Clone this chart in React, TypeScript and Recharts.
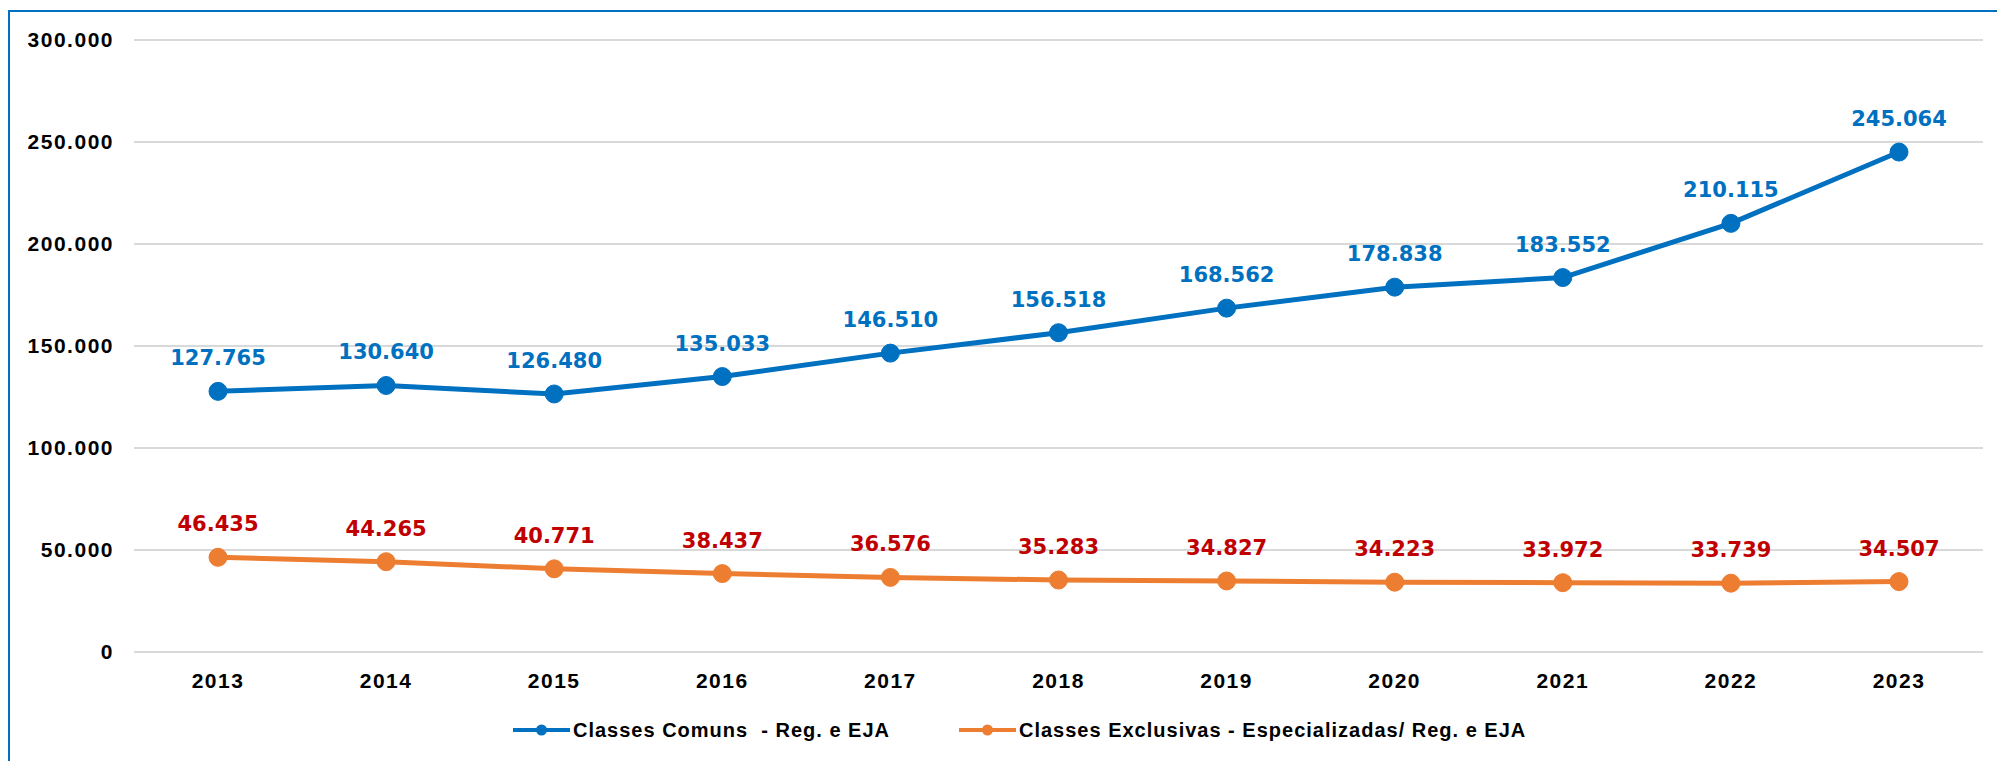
import {
  LineChart,
  Line,
  XAxis,
  YAxis,
  CartesianGrid,
  LabelList,
  Legend,
} from "recharts";

const years = ["2013", "2014", "2015", "2016", "2017", "2018", "2019", "2020", "2021", "2022", "2023"];
const classesComuns = [127765, 130640, 126480, 135033, 146510, 156518, 168562, 178838, 183552, 210115, 245064];
const classesExclusivas = [46435, 44265, 40771, 38437, 36576, 35283, 34827, 34223, 33972, 33739, 34507];
const yTicks = [0, 50000, 100000, 150000, 200000, 250000, 300000];

const data = years.map((year, i) => ({
  year,
  comuns: classesComuns[i],
  exclusivas: classesExclusivas[i],
}));

const BLUE = "#0070C0";
const ORANGE = "#ED7D31";
const RED = "#C00000";

// 127765 -> "127.765"
const fmt = (v: any) => String(v).replace(/\B(?=(\d{3})+(?!\d))/g, ".");

const tickStyle = {
  fill: "#000",
  fontFamily: "'Liberation Sans', Arial, sans-serif",
  fontWeight: 700,
  fontSize: 21,
  letterSpacing: 1.5,
};

const labelStyle = {
  fontFamily: "'DejaVu Sans', Verdana, sans-serif",
  fontWeight: 700,
  fontSize: 21,
};

function LegendContent(props: any) {
  const items = props.payload || [];
  return (
    <div style={{ display: "flex", alignItems: "center" }}>
      {items.map((item: any, i: number) => (
        <div
          key={i}
          style={{ display: "flex", alignItems: "center", marginRight: i === 0 ? 69 : 0 }}
        >
          <svg width={57} height={14} style={{ display: "block" }}>
            <line x1={0} y1={7} x2={57} y2={7} stroke={item.color} strokeWidth={4} strokeLinecap="round" />
            <circle cx={28.5} cy={7} r={5.5} fill={item.color} />
          </svg>
          <span
            style={{
              marginLeft: 3,
              whiteSpace: "pre",
              fontFamily: "'Liberation Sans', Arial, sans-serif",
              fontWeight: 700,
              fontSize: 20,
              letterSpacing: 1,
              color: "#000",
              lineHeight: "26px",
            }}
          >
            {item.value}
          </span>
        </div>
      ))}
    </div>
  );
}

export default function App() {
  return (
    <div
      style={{
        position: "absolute",
        left: 8,
        top: 10,
        width: 1989,
        height: 751,
        boxSizing: "border-box",
        borderLeft: `2px solid ${BLUE}`,
        borderTop: `2px solid ${BLUE}`,
        background: "#fff",
      }}
    >
      <LineChart
        width={1987}
        height={749}
        data={data}
        margin={{ top: 28, right: 14, left: 0, bottom: 49 }}
      >
        <CartesianGrid vertical={false} stroke="#D9D9D9" strokeWidth={2} />
        <XAxis
          dataKey="year"
          axisLine={false}
          tickLine={false}
          height={60}
          tickMargin={15}
          padding={{ left: 84, right: 84 }}
          tick={tickStyle}
          interval={0}
        />
        <YAxis
          domain={[0, 300000]}
          ticks={yTicks}
          axisLine={false}
          tickLine={false}
          width={124}
          tickMargin={14}
          tickFormatter={fmt}
          tick={tickStyle}
        />
        <Legend
          layout="vertical"
          align="center"
          verticalAlign="middle"
          content={<LegendContent />}
          wrapperStyle={{ left: 503, top: 705, width: "auto" }}
        />
        <Line
          type="linear"
          dataKey="comuns"
          name="Classes Comuns  - Reg. e EJA"
          stroke={BLUE}
          strokeWidth={5}
          dot={{ r: 9, fill: BLUE, stroke: BLUE, strokeWidth: 1 }}
          activeDot={false}
          isAnimationActive={false}
        >
          <LabelList dataKey="comuns" position="top" offset={26} fill={BLUE} formatter={fmt} style={labelStyle} />
        </Line>
        <Line
          type="linear"
          dataKey="exclusivas"
          name="Classes Exclusivas - Especializadas/ Reg. e EJA"
          stroke={ORANGE}
          strokeWidth={5}
          dot={{ r: 9, fill: ORANGE, stroke: ORANGE, strokeWidth: 1 }}
          activeDot={false}
          isAnimationActive={false}
        >
          <LabelList dataKey="exclusivas" position="top" offset={26} fill={RED} formatter={fmt} style={labelStyle} />
        </Line>
      </LineChart>
    </div>
  );
}
